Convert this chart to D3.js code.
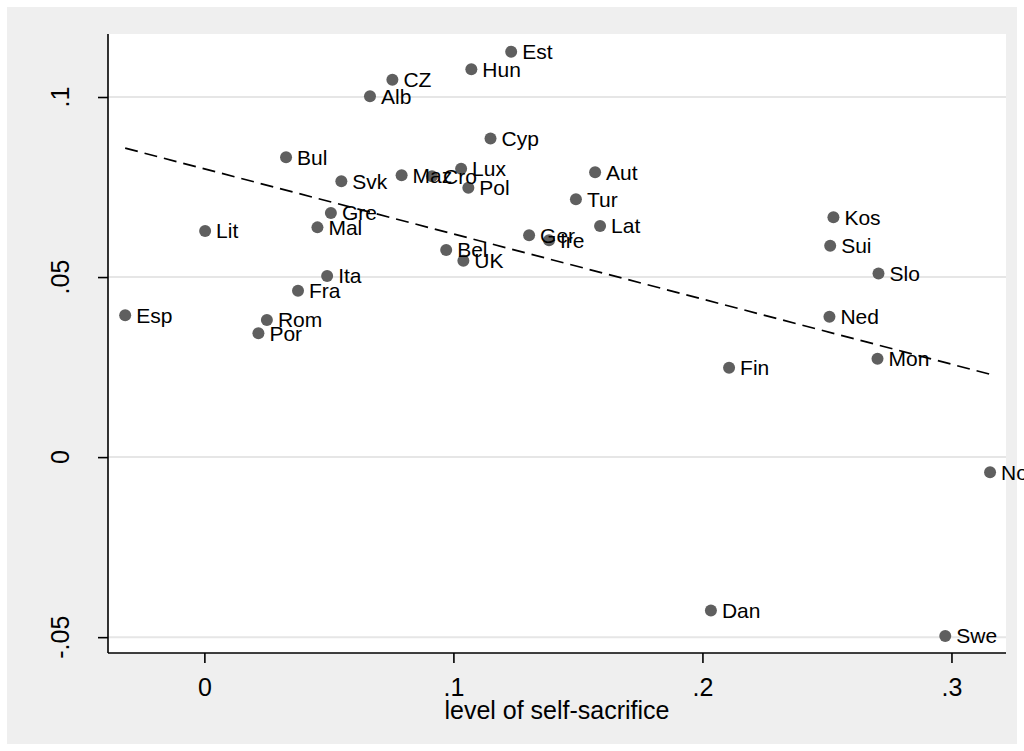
<!DOCTYPE html>
<html>
<head>
<meta charset="utf-8">
<script src="https://cdn.jsdelivr.net/npm/d3@7"></script>
<style>
  body { margin: 0; background: #fff; }
  svg text { font-family: "Liberation Sans", Arial, sans-serif; }
</style>
</head>
<body>
<div id="chart"></div>
<script>
// country codes and their values
const countries = ["Esp","Lit","Bul","Alb","CZ","Hun","Est","Cyp","Svk","Maz","Cro","Lux","Pol",
  "Gre","Mal","Bel","UK","Aut","Tur","Lat","Ger","Ire","Ita","Fra","Rom","Por",
  "Kos","Sui","Slo","Ned","Mon","Fin","Nor","Dan","Swe"];
const selfSacrifice = [-0.0318,0.0003,0.0328,0.0665,0.0755,0.1072,0.1232,0.1149,0.0550,0.0792,0.0914,0.1031,0.1060,
  0.0508,0.0454,0.0971,0.1040,0.1569,0.1492,0.1589,0.1304,0.1384,0.0493,0.0376,0.0251,0.0217,
  0.2526,0.2513,0.2707,0.2510,0.2703,0.2107,0.3155,0.2034,0.2975];
const yValue = [0.0394,0.0628,0.0833,0.1002,0.1048,0.1077,0.1126,0.0885,0.0766,0.0783,0.0780,0.0801,0.0748,
  0.0678,0.0638,0.0575,0.0545,0.0791,0.0716,0.0642,0.0616,0.0602,0.0503,0.0462,0.0381,0.0344,
  0.0666,0.0587,0.0510,0.0390,0.0273,0.0248,-0.0042,-0.0426,-0.0497];

// fitted line end points
const fitX = [-0.0318, 0.3155];
const fitY = [0.0858, 0.0230];

const xTicks = [0, 0.1, 0.2, 0.3];
const xTickLabels = ["0", ".1", ".2", ".3"];
const yTicks = [-0.05, 0, 0.05, 0.1];
const yTickLabels = ["-.05", "0", ".05", ".1"];

const width = 1024, height = 751;
const plot = { left: 108, right: 1006, top: 34, bottom: 653 };

const svg = d3.select("#chart").append("svg")
  .attr("width", width)
  .attr("height", height);

// outer graph region
svg.append("rect")
  .attr("x", 7).attr("y", 7)
  .attr("width", 1010).attr("height", 737)
  .attr("fill", "#efefef");

// plot region
svg.append("rect")
  .attr("x", plot.left).attr("y", plot.top)
  .attr("width", plot.right - plot.left).attr("height", plot.bottom - plot.top)
  .attr("fill", "#ffffff");

const x = d3.scaleLinear()
  .domain([-0.0387, 0.3219])
  .range([plot.left, plot.right]);

const y = d3.scaleLinear()
  .domain([-0.0544, 0.1175])
  .range([plot.bottom, plot.top]);

// horizontal grid lines
svg.append("g")
  .selectAll("line")
  .data(yTicks)
  .enter()
    .append("line")
    .attr("x1", plot.left).attr("x2", plot.right)
    .attr("y1", d => y(d)).attr("y2", d => y(d))
    .attr("stroke", "#e6e6e6")
    .attr("stroke-width", 2);

// fit line
svg.append("line")
  .attr("x1", x(fitX[0])).attr("y1", y(fitY[0]))
  .attr("x2", x(fitX[1])).attr("y2", y(fitY[1]))
  .attr("stroke", "#000")
  .attr("stroke-width", 1.7)
  .attr("stroke-dasharray", "13,7");

// y axis
const yAxis = svg.append("g")
  .attr("transform", `translate(${plot.left},0)`)
  .call(d3.axisLeft(y).tickValues(yTicks).tickSize(10).tickFormat(""));
yAxis.select(".domain")
  .attr("d", `M0,${plot.top}V${plot.bottom}`)
  .attr("stroke-width", 1.6);
yAxis.selectAll(".tick line").attr("stroke-width", 1.6);

svg.append("g")
  .selectAll("text")
  .data(yTicks)
  .enter()
    .append("text")
    .attr("transform", d => `translate(60,${y(d)}) rotate(-90)`)
    .attr("text-anchor", "middle")
    .attr("dy", "0.35em")
    .attr("font-size", "25px")
    .attr("fill", "#000")
    .text((d, i) => yTickLabels[i]);

// x axis
const xAxis = svg.append("g")
  .attr("transform", `translate(0,${plot.bottom})`)
  .call(d3.axisBottom(x).tickValues(xTicks).tickSize(10).tickFormat((d, i) => xTickLabels[i]));
xAxis.select(".domain")
  .attr("d", `M${plot.left},0H${plot.right}`)
  .attr("stroke-width", 1.6);
xAxis.selectAll(".tick line").attr("stroke-width", 1.6);
xAxis.selectAll(".tick text")
  .attr("font-size", "25px")
  .attr("font-family", "Liberation Sans, Arial, sans-serif")
  .attr("fill", "#000")
  .attr("y", 25)
  .attr("dy", "0.71em");

svg.append("text")
  .attr("x", (plot.left + plot.right) / 2)
  .attr("y", 719)
  .attr("text-anchor", "middle")
  .attr("font-size", "25px")
  .attr("fill", "#000")
  .text("level of self-sacrifice");

// points and labels
const pts = svg.append("g");
pts.selectAll("circle")
  .data(countries)
  .enter()
    .append("circle")
    .attr("cx", (d, i) => x(selfSacrifice[i]))
    .attr("cy", (d, i) => y(yValue[i]))
    .attr("r", 6)
    .attr("fill", "#5f5f5f");

pts.selectAll("text")
  .data(countries)
  .enter()
    .append("text")
    .attr("x", (d, i) => x(selfSacrifice[i]) + 11)
    .attr("y", (d, i) => y(yValue[i]))
    .attr("dy", "0.35em")
    .attr("font-size", "21px")
    .attr("fill", "#000")
    .text(d => d);
</script>
</body>
</html>
